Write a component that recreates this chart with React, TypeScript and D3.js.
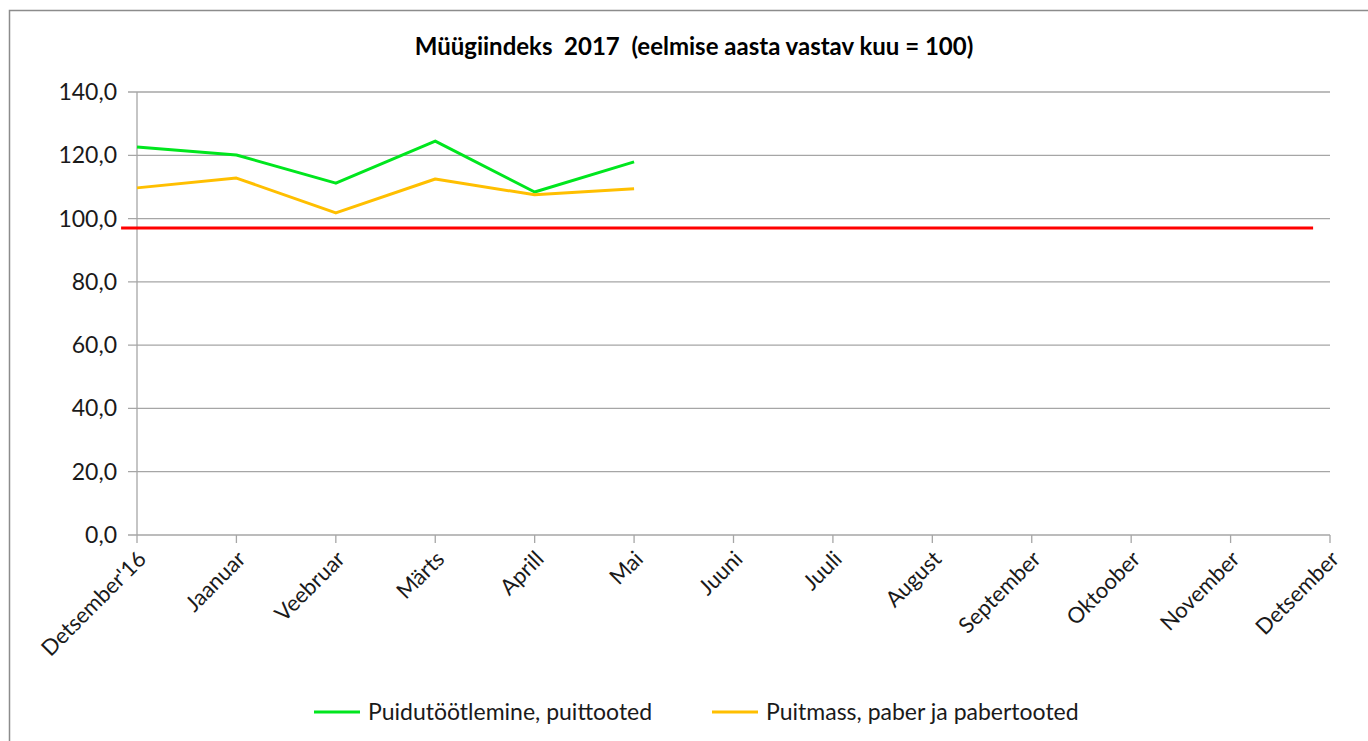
import * as d3 from 'd3';
import React from 'react';

// months on the x axis (Excel style, points sit on the ticks)
const months = [
  "Detsember'16", 'Jaanuar', 'Veebruar', 'Märts', 'Aprill', 'Mai', 'Juuni',
  'Juuli', 'August', 'September', 'Oktoober', 'November', 'Detsember',
];

const woodValues = [122.6, 120.1, 111.2, 124.5, 108.4, 117.9];
const paperValues = [109.7, 112.8, 101.8, 112.5, 107.5, 109.4];

const yTicks = [0, 20, 40, 60, 80, 100, 120, 140];
const referenceLevel = 97;

const seriesNames = ['Puidutöötlemine, puittooted', 'Puitmass, paber ja pabertooted'];
const seriesColors = ['#00e61e', '#ffbf00'];

const title = 'Müügiindeks  2017  (eelmise aasta vastav kuu = 100)';

const W = 1368;
const H = 741;
const font = 'Lato, "Open Sans", sans-serif';

const App = () => {
  const marginLeft = 137;
  const marginRight = 38;
  const marginTop = 92;
  const plotBottom = 535;

  const x = d3.scalePoint<string>().domain(months).range([marginLeft, W - marginRight]);
  const y = d3.scaleLinear().domain([0, 140]).range([plotBottom, marginTop]);

  const line = d3
    .line<number>()
    .x((_, i) => x(months[i]) as number)
    .y((d) => y(d));

  const series = [woodValues, paperValues];
  const step = x.step();

  return (
    <svg
      width={W}
      height={H}
      style={{ position: 'absolute', left: 0, top: 0, background: '#fff' }}
      fontFamily={font}
    >
      {/* chart frame */}
      <rect x={9.5} y={10.5} width={W + 10} height={H + 10} fill="none" stroke="#8c8c8c" strokeWidth={1.5} />

      <text x={694} y={55} textAnchor="middle" fontSize={24} fontWeight="bold" fill="#000" style={{ whiteSpace: 'pre' }}>
        {title}
      </text>

      {/* gridlines + y axis labels */}
      {yTicks.map((t) => (
        <g key={t}>
          <line x1={marginLeft - 9} x2={W - marginRight} y1={y(t)} y2={y(t)} stroke="#a6a6a6" strokeWidth={1.3} />
          <text x={117} y={y(t)} dy="0.35em" textAnchor="end" fontSize={23} fill="#1a1a1a">
            {d3.format('.1f')(t).replace('.', ',')}
          </text>
        </g>
      ))}

      {/* y axis line */}
      <line x1={marginLeft} x2={marginLeft} y1={marginTop} y2={plotBottom} stroke="#a6a6a6" strokeWidth={1.3} />

      {/* x ticks + labels */}
      {months.map((m) => {
        const px = x(m) as number;
        return (
          <g key={m}>
            <line x1={px} x2={px} y1={plotBottom} y2={plotBottom + 8} stroke="#a6a6a6" strokeWidth={1.3} />
            <text
              transform={`translate(${px + 5},${plotBottom + 20}) rotate(-45)`}
              textAnchor="end"
              dy="0.35em"
              fontSize={22}
              fill="#1a1a1a"
            >
              {m}
            </text>
          </g>
        );
      })}

      {/* reference line */}
      <line
        x1={(x(months[0]) as number) - step * 0.16}
        x2={(x(months[months.length - 1]) as number) - step * 0.17}
        y1={y(referenceLevel)}
        y2={y(referenceLevel)}
        stroke="#ff0000"
        strokeWidth={3}
      />

      {series.map((vals, i) => (
        <path key={i} d={line(vals) || ''} fill="none" stroke={seriesColors[i]} strokeWidth={3} strokeLinejoin="round" />
      ))}

      {/* legend */}
      {seriesNames.map((name, i) => {
        const lx = i === 0 ? 314 : 712;
        return (
          <g key={name} transform={`translate(${lx},712)`}>
            <line x1={0} x2={46} y1={0} y2={0} stroke={seriesColors[i]} strokeWidth={3} />
            <text x={54} y={0} dy="0.35em" fontSize={23} fill="#1a1a1a">
              {name}
            </text>
          </g>
        );
      })}
    </svg>
  );
};

export default App;
